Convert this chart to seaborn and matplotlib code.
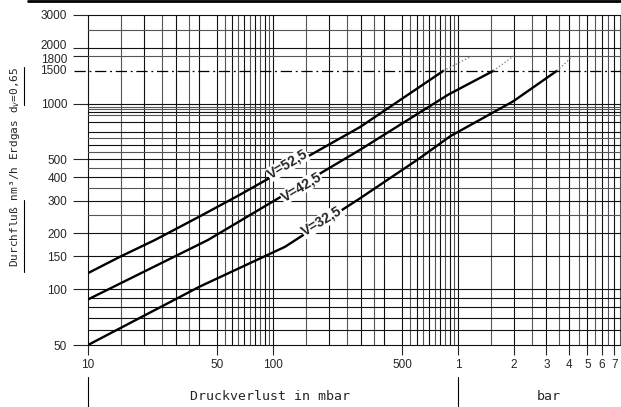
import matplotlib
matplotlib.use("Agg")
import matplotlib.pyplot as plt
import matplotlib.transforms as mtransforms
from matplotlib.lines import Line2D
import seaborn as sns

# Druckverlust (mbar) / Durchfluss (nm3/h)
v525_dp = [10, 15, 23, 40, 66, 296, 833]
v525_q = [122, 150, 184, 246, 322, 748, 1500]
v425_dp = [10, 44.5, 296, 887, 1552]
v425_q = [88, 184, 564, 1118, 1500]
v325_dp = [10, 40, 116, 296, 623, 906, 1990, 3420]
v325_q = [50, 103, 169, 309, 509, 666, 1029, 1500]

# dotted continuation above 1500
ext_dp = [[833, 1180], [1552, 1990], [3420, 4120]]
ext_q = [[1500, 1800], [1500, 1800], [1500, 1780]]

curve_names = ["V=52,5", "V=42,5", "V=32,5"]
label_dp = [120, 142, 184]
label_q = [470, 355, 232]

# grid lines
x_main = [10, 20, 30, 40, 50, 60, 70, 80, 90, 100, 200, 300, 400, 500, 600, 700,
          800, 900, 1000, 2000, 3000, 4000, 5000, 6000, 7000]
x_half = [15, 25, 35, 55, 65, 75, 85, 95, 150, 250, 350, 550, 650, 750, 850, 950,
          1500, 2500, 3500, 4500, 5500, 6500, 7500]
y_main = [50, 60, 70, 80, 90, 100, 150, 200, 300, 400, 500, 600, 700, 800, 900,
          1000, 2000, 3000]
y_half = [250, 350, 450, 550, 650, 870, 930, 960, 1800, 2500]

x_ticks = [10, 50, 100, 500, 1000, 2000, 3000, 4000, 5000, 6000, 7000]
x_labels = ["10", "50", "100", "500", "1", "2", "3", "4", "5", "6", "7"]
y_ticks = [50, 100, 150, 200, 300, 400, 500, 1000, 1800, 2000, 3000]
y_labels = ["50", "100", "150", "200", "300", "400", "500", "1000", "1800", "2000", "3000"]

sns.set_style("white")
plt.rcParams["font.family"] = ["Liberation Sans", "DejaVu Sans"]

fig = plt.figure(figsize=(6.21, 4.07), dpi=100)
ax = fig.add_axes([88 / 621, 1 - 345 / 407, 1 - 88 / 621, 330 / 407])

for v in x_main:
    ax.axvline(v, color="#111111", lw=0.8, zorder=1, clip_on=False)
for v in x_half:
    ax.axvline(v, color="#555555", lw=0.8, zorder=1, clip_on=False)
for v in y_main:
    ax.axhline(v, color="#111111", lw=0.8, zorder=1, clip_on=False)
for v in y_half:
    ax.axhline(v, color="#555555", lw=0.8, zorder=1, clip_on=False)

# dash-dot line at 1500, running out into the tick area
ax.plot([-0.027, 1], [1500, 1500], transform=ax.get_yaxis_transform(),
        color="black", lw=0.9, ls=(0, (9, 3, 1.5, 3)), clip_on=False, zorder=2)
ax.text(-0.04, 1500, "1500", transform=ax.get_yaxis_transform(),
        ha="right", va="center", fontsize=8.5)

for dp, q in zip([v525_dp, v425_dp, v325_dp], [v525_q, v425_q, v325_q]):
    sns.lineplot(x=dp, y=q, ax=ax, color="black", lw=1.7, sort=False,
                 estimator=None, zorder=3)
for dp, q in zip(ext_dp, ext_q):
    sns.lineplot(x=dp, y=q, ax=ax, color="#888888", lw=1.0, ls=(0, (1, 1.5)),
                 sort=False, estimator=None, zorder=3)

for name, x, y in zip(curve_names, label_dp, label_q):
    ax.text(x, y, name, rotation=31, ha="center", va="center", fontsize=10,
            fontweight="bold", zorder=4, rotation_mode="anchor",
            bbox=dict(facecolor="white", edgecolor="none", pad=0.3))

ax.set_xscale("log")
ax.set_yscale("log")
ax.set_xlim(10, 7600)
ax.set_ylim(50, 3000)
ax.minorticks_off()
ax.set_xticks(x_ticks, labels=x_labels)
ax.set_yticks(y_ticks, labels=y_labels)
ax.xaxis.set_minor_locator(matplotlib.ticker.NullLocator())
ax.yaxis.set_minor_locator(matplotlib.ticker.NullLocator())
ax.tick_params(axis="y", length=11, width=0.8, pad=4, labelsize=8.5, left=True)
ax.tick_params(axis="x", length=7, width=0.8, pad=3, labelsize=8.5, bottom=True)
for s in ax.spines.values():
    s.set_visible(False)

# pull the close 2000 / 1800 labels slightly apart
for lab in ax.get_yticklabels():
    if lab.get_text() == "2000":
        lab.set_transform(lab.get_transform() + mtransforms.ScaledTranslation(0, 2 / 72, fig.dpi_scale_trans))
    if lab.get_text() == "1800":
        lab.set_transform(lab.get_transform() + mtransforms.ScaledTranslation(0, -2 / 72, fig.dpi_scale_trans))

# separators under the x axis
for v in [10, 1000]:
    ax.plot([v, v], [-0.097, -0.19], transform=ax.get_xaxis_transform(),
            color="black", lw=0.8, clip_on=False)

fig.text(270 / 621, 1 - 396 / 407, "Druckverlust in mbar", ha="center",
         va="center", family="DejaVu Sans Mono", fontsize=9.5)
fig.text(549 / 621, 1 - 396 / 407, "bar", ha="center", va="center",
         family="DejaVu Sans Mono", fontsize=9.5)
fig.text(15 / 621, 1 - 167 / 407, "Durchfluß nm³/h Erdgas d$_v$=0,65",
         rotation=90, ha="center", va="center", family="DejaVu Sans Mono",
         fontsize=8)

# underline pieces of the y label and the top rule
fig.add_artist(Line2D([24 / 621] * 2, [1 - 272 / 407, 1 - 200 / 407],
                      color="black", lw=0.8))
fig.add_artist(Line2D([24 / 621] * 2, [1 - 105 / 407, 1 - 67 / 407],
                      color="black", lw=0.8))
fig.add_artist(Line2D([28 / 621, 1], [1 - 1 / 407] * 2, color="black", lw=2))

fig.savefig("out.png", dpi=100)
